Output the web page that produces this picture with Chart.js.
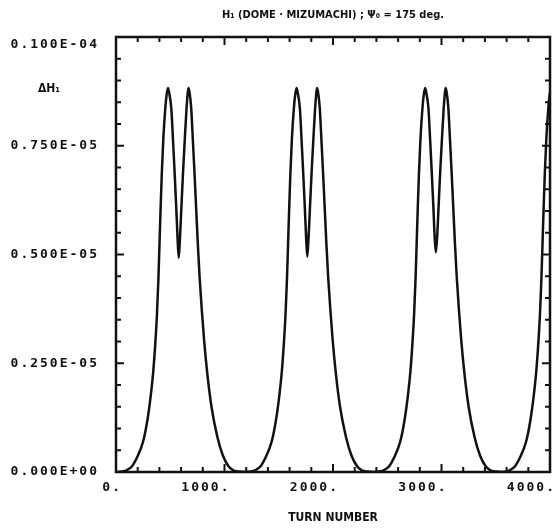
<!DOCTYPE html>
<html>
<head>
<meta charset="utf-8">
<script src="https://cdn.jsdelivr.net/npm/chart.js@4.4.1/dist/chart.umd.min.js"></script>
<style>
  html, body { margin: 0; padding: 0; background: #fff; }
  canvas { display: block; }
</style>
</head>
<body>
<canvas id="chart" width="558" height="529"></canvas>
<script>
// turn number of each sample (one line per double peak)
const turns = [
    0, 50, 98, 150, 189, 250, 290, 320, 343, 362, 378, 391, 401, 411, 422, 436, 454, 467, 479,
    490, 510, 525, 540, 555, 567, 578, 590, 603, 618, 634, 650, 660, 668,
    678, 693, 708, 724, 739, 754, 770, 790, 813, 842, 880, 935, 985, 1035, 1080, 1135, 1190,

    1240, 1283, 1335, 1374, 1435, 1475, 1505, 1528, 1547, 1563, 1576, 1586, 1596, 1607, 1621, 1639, 1652, 1664,
    1675, 1695, 1710, 1725, 1740, 1752, 1763, 1775, 1788, 1803, 1819, 1835, 1845, 1853,
    1863, 1878, 1893, 1909, 1924, 1939, 1955, 1975, 1998, 2027, 2065, 2120, 2170, 2220, 2265, 2320, 2375,

    2425, 2468, 2520, 2559, 2620, 2660, 2690, 2713, 2732, 2748, 2761, 2771, 2781, 2792, 2806, 2824, 2837, 2849,
    2860, 2880, 2895, 2910, 2925, 2937, 2948, 2960, 2973, 2988, 3004, 3020, 3030, 3038,
    3048, 3063, 3078, 3094, 3109, 3124, 3140, 3160, 3183, 3212, 3250, 3305, 3355, 3405, 3450, 3505, 3560,

    3600, 3628, 3680, 3719, 3780, 3820, 3850, 3873, 3892, 3908, 3921, 3931, 3941, 3952, 3966, 3984, 3997, 4000
];

// delta H1 in units of 1E-05
const deltaH = [
    0.000, 0.001, 0.004, 0.014, 0.031, 0.070, 0.120, 0.175, 0.230, 0.295, 0.365, 0.445, 0.525, 0.605, 0.685, 0.765, 0.835, 0.868, 0.883,
    0.872, 0.835, 0.765, 0.690, 0.610, 0.540, 0.492, 0.540, 0.610, 0.690, 0.765, 0.835, 0.868, 0.883,
    0.872, 0.837, 0.765, 0.685, 0.605, 0.525, 0.450, 0.375, 0.300, 0.225, 0.150, 0.080, 0.038, 0.014, 0.004, 0.001, 0.000,

    0.001, 0.004, 0.014, 0.031, 0.070, 0.120, 0.175, 0.230, 0.295, 0.365, 0.445, 0.525, 0.605, 0.685, 0.765, 0.835, 0.868, 0.883,
    0.872, 0.835, 0.765, 0.690, 0.610, 0.540, 0.495, 0.540, 0.610, 0.690, 0.765, 0.835, 0.868, 0.883,
    0.872, 0.837, 0.765, 0.685, 0.605, 0.525, 0.450, 0.375, 0.300, 0.225, 0.150, 0.080, 0.038, 0.014, 0.004, 0.001, 0.000,

    0.001, 0.004, 0.014, 0.031, 0.070, 0.120, 0.175, 0.230, 0.295, 0.365, 0.445, 0.525, 0.605, 0.685, 0.765, 0.835, 0.868, 0.883,
    0.872, 0.835, 0.765, 0.690, 0.610, 0.540, 0.505, 0.540, 0.610, 0.690, 0.765, 0.835, 0.868, 0.883,
    0.872, 0.837, 0.765, 0.685, 0.605, 0.525, 0.450, 0.375, 0.300, 0.225, 0.150, 0.080, 0.038, 0.014, 0.004, 0.001, 0.000,

    0.001, 0.004, 0.014, 0.031, 0.070, 0.120, 0.175, 0.230, 0.295, 0.365, 0.445, 0.525, 0.605, 0.685, 0.765, 0.835, 0.868, 0.872
];

const xTickLabels = ['0.', '1000.', '2000.', '3000.', '4000.'];
const yTickLabels = ['0.000E+00', '0.250E-05', '0.500E-05', '0.750E-05', '0.100E-04'];

const INK = '#111';
const LABEL_FONT = '"DejaVu Sans Condensed", "Liberation Sans Narrow", "DejaVu Sans", sans-serif';

// frame, inward tick marks on all four sides, and spaced-out tick label text
const frameTicks = {
    id: 'frameTicks',
    afterDatasetsDraw(chart) {
        const { ctx, chartArea: a, scales: { x, y } } = chart;
        ctx.save();
        ctx.strokeStyle = INK;
        ctx.lineWidth = 2;
        ctx.beginPath();
        for (let t = 0; t <= 4000; t += 200) {
            const px = x.getPixelForValue(t);
            const len = t % 1000 === 0 ? 8 : 5;
            ctx.moveTo(px, a.bottom); ctx.lineTo(px, a.bottom - len);
            ctx.moveTo(px, a.top); ctx.lineTo(px, a.top + len);
        }
        for (let i = 0; i <= 20; i++) {
            const py = y.getPixelForValue(i * 0.05);
            const len = i % 5 === 0 ? 8 : 5;
            ctx.moveTo(a.left, py); ctx.lineTo(a.left + len, py);
            ctx.moveTo(a.right, py); ctx.lineTo(a.right - len, py);
        }
        ctx.stroke();
        ctx.lineWidth = 2.5;
        ctx.strokeRect(a.left, a.top, a.right - a.left, a.bottom - a.top);
        ctx.restore();
        // the old plotter font is wide, spread the tick labels that are drawn next
        ctx.letterSpacing = '2px';
    },
    afterDraw(chart) {
        const ctx = chart.ctx;
        ctx.letterSpacing = '0px';
        ctx.save();
        ctx.fillStyle = INK;
        ctx.font = 'bold 12px ' + LABEL_FONT;
        ctx.textAlign = 'center';
        ctx.textBaseline = 'middle';
        ctx.fillText('\u0394H\u2081', 49, 89);
        ctx.restore();
    }
};

new Chart(document.getElementById('chart'), {
    type: 'line',
    data: {
        datasets: [{
            data: turns.map((t, i) => ({ x: t, y: deltaH[i] })),
            borderColor: INK,
            borderWidth: 2.5,
            pointRadius: 0,
            fill: false,
            cubicInterpolationMode: 'monotone'
        }]
    },
    options: {
        responsive: false,
        animation: false,
        devicePixelRatio: 1,
        layout: { padding: { left: 0, right: 5, top: 0, bottom: 0 } },
        plugins: {
            legend: { display: false },
            tooltip: { enabled: false },
            title: {
                display: true,
                fullSize: false,
                text: 'H\u2081 (DOME \u00B7 MIZUMACHI) ; \u03A8\u2080 = 175 deg.',
                color: INK,
                font: { family: LABEL_FONT, size: 11, weight: 'bold' },
                padding: { top: 9, bottom: 14.8 }
            }
        },
        scales: {
            x: {
                type: 'linear',
                min: 0,
                max: 4000,
                grid: { display: false, drawTicks: false },
                border: { display: false },
                ticks: {
                    stepSize: 1000,
                    autoSkip: false,
                    maxRotation: 0,
                    minRotation: 0,
                    align: 'end',
                    labelOffset: 6,
                    padding: 8,
                    z: 1,
                    color: INK,
                    font: { family: '"DejaVu Sans Mono", monospace', size: 13, weight: 'bold' },
                    callback: (v, i) => xTickLabels[i]
                },
                title: {
                    display: true,
                    text: 'TURN NUMBER',
                    color: INK,
                    font: { family: LABEL_FONT, size: 12, weight: 'bold' },
                    padding: { top: 0, bottom: 4 }
                },
                afterFit: (scale) => { scale.height = 57; }
            },
            y: {
                min: 0,
                max: 1,
                grid: { display: false, drawTicks: false },
                border: { display: false },
                ticks: {
                    stepSize: 0.25,
                    autoSkip: false,
                    padding: 17,
                    z: 1,
                    color: INK,
                    font: { family: '"DejaVu Sans Mono", monospace', size: 13, weight: 'bold' },
                    // top label sits a little below its tick in the original
                    callback: (v, i, all) => i === all.length - 1 ? ['', yTickLabels[i]] : yTickLabels[i]
                },
                afterFit: (scale) => { scale.width = 116; }
            }
        }
    },
    plugins: [frameTicks]
});
</script>
</body>
</html>
